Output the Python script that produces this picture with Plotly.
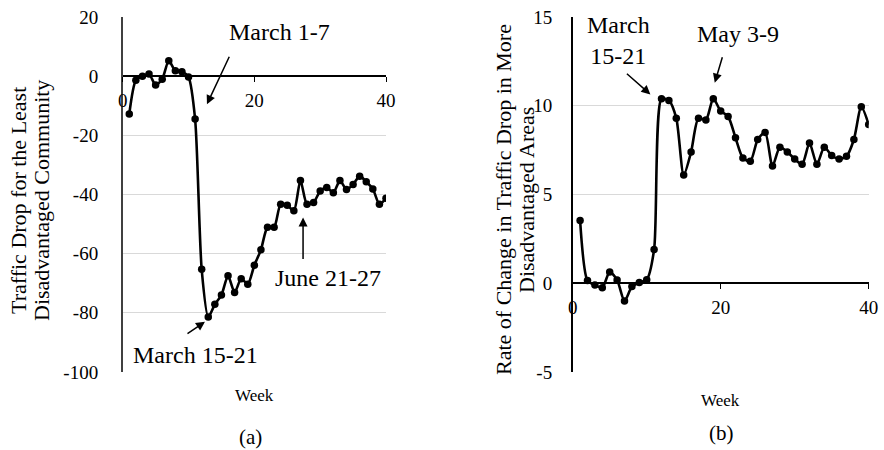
import plotly.graph_objects as go

# Weekly series
weeks = list(range(1, 41))
least_disadv_drop = [
    -12.8, -1.4, 0.0, 0.7, -3.0, -1.0, 5.2, 1.8, 1.5, -0.3,
    -14.5, -65.3, -81.4, -77.1, -74.0, -67.5, -73.1, -68.5, -70.3, -63.9,
    -58.7, -51.1, -51.1, -43.3, -43.6, -45.5, -35.3, -43.3, -42.7, -38.8,
    -37.6, -39.4, -35.3, -38.3, -36.6, -33.8, -35.7, -38.1, -43.3, -41.3,
]
more_disadv_rate = [
    3.54, 0.15, -0.1, -0.25, 0.64, 0.19, -1.0, -0.19, 0.04, 0.2,
    1.9, 10.4, 10.3, 9.3, 6.1, 7.4, 9.3, 9.2, 10.4, 9.7,
    9.4, 8.2, 7.06, 6.87, 8.1, 8.5, 6.6, 7.66, 7.4, 7.0,
    6.7, 7.9, 6.7, 7.66, 7.2, 7.0, 7.15, 8.1, 9.94, 8.94,
]

x_ticks = [0, 20, 40]
left_y_ticks = [20, 0, -20, -40, -60, -80, -100]
right_y_ticks = [15, 10, 5, 0, -5]

W, H = 884, 450
FONT = "Liberation Serif, Times New Roman, serif"


def px(x):
    return x / W


def py(y):
    return 1 - y / H


def labels(vals):
    # plain hyphen for negatives
    return [str(v) for v in vals]


fig = go.Figure()

line_style = dict(color="black", width=2.6, shape="spline", smoothing=0.7)
marker_style = dict(color="black", size=7.5)

fig.add_trace(go.Scatter(x=weeks, y=least_disadv_drop, mode="lines+markers",
                         line=line_style, marker=marker_style,
                         xaxis="x", yaxis="y", showlegend=False))
fig.add_trace(go.Scatter(x=weeks, y=more_disadv_rate, mode="lines+markers",
                         line=line_style, marker=marker_style,
                         xaxis="x2", yaxis="y2", showlegend=False))

tick_font = dict(family=FONT, size=19, color="black")

top, bottom = 17, 372
# x axes sit on the zero line of each panel
fig.update_layout(
    width=W, height=H,
    margin=dict(l=0, r=0, t=0, b=0, autoexpand=False),
    paper_bgcolor="white", plot_bgcolor="white",
    font=dict(family=FONT, color="black"),
    xaxis=dict(domain=[px(122.7), px(386)], range=[0, 40],
               tickvals=x_ticks, ticktext=labels(x_ticks),
               anchor="free", position=py(76), showgrid=False, zeroline=False,
               showline=True, linecolor="black", linewidth=1.5,
               ticks="outside", ticklen=5, tickwidth=1.2, tickcolor="black",
               ticklabelstandoff=2, tickfont=tick_font, automargin=False),
    yaxis=dict(domain=[py(bottom), py(top)], range=[-100, 20],
               tickvals=left_y_ticks, ticktext=labels(left_y_ticks),
               showgrid=True, gridcolor="#d9d9d9",
               gridwidth=1.2, zeroline=False, showline=True,
               linecolor="#404040", linewidth=1.5, ticks="",
               ticklabelstandoff=19, tickfont=tick_font, anchor="x",
               automargin=False),
    xaxis2=dict(domain=[px(572.7), px(868.7)], range=[0, 40],
                tickvals=x_ticks, ticktext=labels(x_ticks),
                anchor="free", position=py(283.3), showgrid=False, zeroline=False,
                showline=True, linecolor="black", linewidth=1.5,
                ticks="outside", ticklen=5, tickwidth=1.2, tickcolor="black",
                ticklabelstandoff=2, tickfont=tick_font, automargin=False),
    yaxis2=dict(domain=[py(bottom), py(top)], range=[-5, 15],
                tickvals=right_y_ticks, ticktext=labels(right_y_ticks),
                showgrid=True, gridcolor="#d9d9d9",
                gridwidth=1.2, zeroline=False, showline=True,
                linecolor="black", linewidth=1.5, ticks="",
                ticklabelstandoff=15, tickfont=tick_font, anchor="x2",
                automargin=False),
)

ann = []

def text(x, y, s, size, xanchor="center", angle=0):
    ann.append(dict(x=px(x), y=py(y), xref="paper", yref="paper", text=s,
                    showarrow=False, xanchor=xanchor, yanchor="middle",
                    textangle=angle, font=dict(family=FONT, size=size, color="black")))

# axis titles (two rotated lines each)
text(18, 201, "Traffic Drop for the Least", 22, angle=-90)
text(41, 201, "Disadvantaged Community", 22, angle=-90)
text(503, 200, "Rate of Change in Traffic Drop in More", 22, angle=-90)
text(526, 200, "Disadvantaged Areas", 22, angle=-90)
text(254.5, 395, "Week", 17)
text(720.5, 400, "Week", 17)
text(250, 437, "(a)", 21)
text(721, 433, "(b)", 21)

# event labels
text(227, 32, "March 1-7", 24, xanchor="left")
text(131, 355, "March 15-21", 24, xanchor="left")
text(273, 278, "June 21-27", 24, xanchor="left")
text(585, 40, "March<br>15-21", 24, xanchor="left")
text(695, 34, "May 3-9", 24, xanchor="left")

# arrows pointing at the events (head in data units, tail offset in pixels)
def arrow(x, y, ax, ay, xr, yr):
    ann.append(dict(x=x, y=y, xref=xr, yref=yr, ax=ax, ay=ay,
                    axref="pixel", ayref="pixel", text="", showarrow=True,
                    arrowhead=2, arrowsize=1.2, arrowwidth=1.5, arrowcolor="black"))

arrow(12.8, -9.5, 23, -49, "x", "y")
arrow(12.5, -83.0, -19, 13, "x", "y")
arrow(27.4, -47.8, 0, 43, "x", "y")
arrow(10.5, 10.64, -25, -22, "x2", "y2")
arrow(19.2, 11.3, 8, -27, "x2", "y2")

fig.update_layout(annotations=ann)

fig.write_html("out.html", config={"displayModeBar": False})
